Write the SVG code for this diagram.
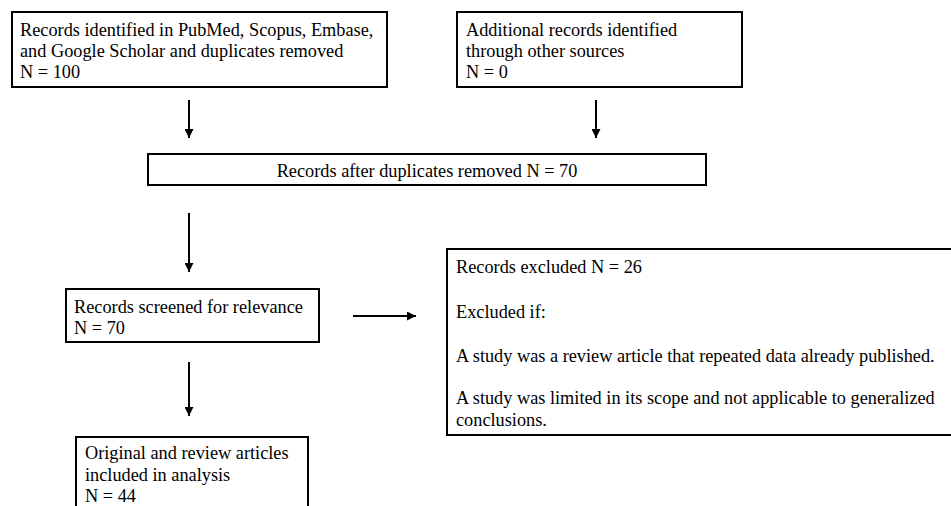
<svg xmlns="http://www.w3.org/2000/svg" width="951" height="506" viewBox="0 0 951 506">
<defs>
<style>
.box{fill:#fff;stroke:#000;stroke-width:2}
.t{font-size:18.3px;fill:#000}
.c{stroke:#000;stroke-width:2;fill:none}
</style>
<marker id="ah" viewBox="0 0 10 10" refX="10" refY="5" markerWidth="4.5" markerHeight="4.5" orient="auto" markerUnits="strokeWidth">
<path d="M0,0 L10,5 L0,10 z" fill="#000"/>
</marker>
</defs>
<rect width="951" height="506" fill="#fff"/>
<g font-family="'Liberation Serif', 'DejaVu Serif', serif">
<g id="n1">
<rect class="box" x="12" y="12" width="375" height="75"/>
<text class="t" x="20" y="36">Records identified in PubMed, Scopus, Embase,</text>
<text class="t" x="20" y="57">and Google Scholar and duplicates removed</text>
<text class="t" x="20" y="78">N = 100</text>
</g>
<g id="n2">
<rect class="box" x="457" y="12" width="285" height="75"/>
<text class="t" x="466" y="36">Additional records identified</text>
<text class="t" x="466" y="57">through other sources</text>
<text class="t" x="466" y="78">N = 0</text>
</g>
<g id="n3">
<rect class="box" x="148" y="154" width="558" height="31"/>
<text class="t" x="427" y="177" text-anchor="middle">Records after duplicates removed N = 70</text>
</g>
<g id="n4">
<rect class="box" x="66" y="289" width="253" height="53"/>
<text class="t" x="74" y="313">Records screened for relevance</text>
<text class="t" x="74" y="334">N = 70</text>
</g>
<g id="n5">
<rect class="box" x="76" y="437" width="232" height="80"/>
<text class="t" x="85" y="459">Original and review articles</text>
<text class="t" x="85" y="481">included in analysis</text>
<text class="t" x="85" y="502">N = 44</text>
</g>
<g id="n6">
<rect class="box" x="447" y="249" width="510" height="186"/>
<text class="t" x="456" y="273">Records excluded N = 26</text>
<text class="t" x="456" y="318">Excluded if:</text>
<text class="t" x="456" y="362">A study was a review article that repeated data already published.</text>
<text class="t" x="456" y="404">A study was limited in its scope and not applicable to generalized</text>
<text class="t" x="456" y="426">conclusions.</text>
</g>
</g>
<g id="connectors">
<line class="c" x1="189" y1="100" x2="189" y2="138" marker-end="url(#ah)"/>
<line class="c" x1="596" y1="100" x2="596" y2="138" marker-end="url(#ah)"/>
<line class="c" x1="189" y1="213" x2="189" y2="272" marker-end="url(#ah)"/>
<line class="c" x1="189" y1="362" x2="189" y2="416" marker-end="url(#ah)"/>
<line class="c" x1="353" y1="316" x2="416" y2="316" marker-end="url(#ah)"/>
</g>
</svg>
